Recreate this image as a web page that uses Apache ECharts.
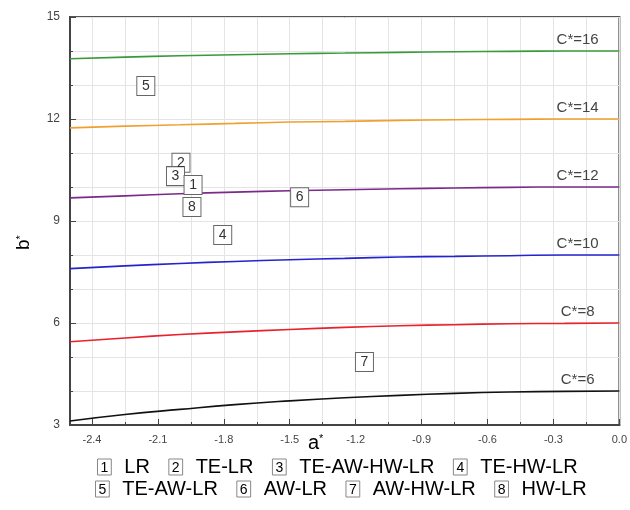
<!DOCTYPE html>
<html>
<head>
<meta charset="utf-8">
<script src="https://cdn.jsdelivr.net/npm/echarts@6/dist/echarts.min.js"></script>
<style>
  html, body { margin: 0; padding: 0; background: #fff; }
  #chart { width: 630px; height: 510px; }
</style>
</head>
<body>
<div id="chart"></div>
<script>
// a* positions at which each constant-chroma curve is sampled
const aValues = [-2.5, -2.25, -2.0, -1.75, -1.5, -1.25, -1.0, -0.75, -0.5, -0.25, 0.0];

// b* along each curve
const bC6  = [3.12, 3.31, 3.46, 3.60, 3.71, 3.80, 3.87, 3.93, 3.97, 3.99, 4.00];
const bC8  = [5.45, 5.56, 5.66, 5.74, 5.81, 5.87, 5.92, 5.95, 5.98, 5.99, 6.00];
const bC10 = [7.60, 7.68, 7.75, 7.81, 7.86, 7.90, 7.94, 7.96, 7.98, 8.00, 8.00];
const bC12 = [9.68, 9.74, 9.80, 9.85, 9.89, 9.92, 9.95, 9.97, 9.99, 10.0, 10.0];
const bC14 = [11.74, 11.79, 11.83, 11.87, 11.91, 11.93, 11.96, 11.98, 11.99, 12.0, 12.0];
const bC16 = [13.77, 13.82, 13.86, 13.89, 13.92, 13.94, 13.96, 13.98, 13.99, 14.0, 14.0];

const curveNames = ['C*=6', 'C*=8', 'C*=10', 'C*=12', 'C*=14', 'C*=16'];

// numbered sample points (drawing order: later ones sit on top)
const markerIds = ['2', '3', '1', '8', '6', '4', '5', '7'];
const markerA   = [-1.995, -2.02, -1.94, -1.945, -1.455, -1.805, -2.155, -1.16];
const markerB   = [10.71, 10.32, 10.06, 9.41, 9.70, 8.59, 12.97, 4.85];

// key below the plot
const keyIds   = ['1', '2', '3', '4', '5', '6', '7', '8'];
const keyNames = ['LR', 'TE-LR', 'TE-AW-HW-LR', 'TE-HW-LR', 'TE-AW-LR', 'AW-LR', 'AW-HW-LR', 'HW-LR'];

// x tick labels
const xTickLabels = ['-2.4', '-2.1', '-1.8', '-1.5', '-1.2', '-0.9', '-0.6', '-0.3', '0.0'];

const curves = [bC6, bC8, bC10, bC12, bC14, bC16];
const curveColors = ['#111111', '#e8222c', '#2424cc', '#7a2a8a', '#f0a030', '#3a9a3a'];
const labelA = -0.19;

// major ticks at the labelled values, minor ticks halfway between them
const xMajor = xTickLabels.map(Number);
const xAll = [];
xMajor.forEach((v, i) => {
  xAll.push(v);
  if (i < xMajor.length - 1) xAll.push(Math.round((v + 0.15) * 100) / 100);
});

const chart = echarts.init(document.getElementById('chart'));

const FONT = 'Liberation Sans, Arial, sans-serif';

const lineSeries = curves.map((vals, i) => ({
  name: curveNames[i],
  type: 'line',
  xAxisIndex: 0,
  data: aValues.map((a, j) => [a, vals[j]]),
  smooth: true,
  showSymbol: false,
  symbol: 'none',
  lineStyle: { color: curveColors[i], width: 1.6 },
  z: 3,
  markPoint: {
    symbol: 'circle',
    symbolSize: 0,
    silent: true,
    data: [{ coord: [labelA, vals[vals.length - 1]] }],
    label: {
      show: true,
      position: 'top',
      distance: 4,
      formatter: curveNames[i],
      color: '#444',
      fontSize: 15,
      fontFamily: FONT
    }
  }
}));

const markerSeries = {
  type: 'scatter',
  xAxisIndex: 0,
  data: markerIds.map((id, i) => ({ name: id, value: [markerA[i], markerB[i]] })),
  symbol: 'rect',
  symbolSize: [18, 19],
  itemStyle: { color: '#fff', borderColor: '#666', borderWidth: 1, opacity: 1 },
  label: {
    show: true,
    position: 'inside',
    formatter: p => p.name,
    color: '#333',
    fontSize: 14,
    fontFamily: FONT
  },
  z: 5
};

function keyRow(ids, names) {
  return ids.map((id, i) => '{box|' + id + '}{g| }{t|' + names[i] + '}' + (i < ids.length - 1 ? '{sp| }' : '')).join('');
}
const keyRich = {
  box: { fontSize: 14, color: '#444', borderColor: '#888', borderWidth: 1, padding: [2, 3, 0, 3], fontFamily: FONT },
  g: { width: 13, fontSize: 14 },
  t: { fontSize: 20, color: '#333', fontFamily: FONT },
  sp: { width: 19, fontSize: 14 }
};

chart.setOption({
  animation: false,
  backgroundColor: '#fff',
  grid: { left: 70, right: 10, top: 17, bottom: 85, show: true, borderColor: '#555', borderWidth: 2, backgroundColor: 'transparent' },
  xAxis: [{
    type: 'value',
    min: -2.5,
    max: 0,
    axisLine: { show: true, onZero: false, lineStyle: { color: '#444', width: 2 } },
    axisTick: { show: true, inside: true, length: 3, customValues: xAll, lineStyle: { color: '#444' } },
    axisLabel: {
      customValues: xMajor,
      color: '#444',
      fontSize: 11,
      fontFamily: FONT,
      margin: 9,
      formatter: v => v.toFixed(1)
    },
    splitLine: { show: true, lineStyle: { color: '#e4e4e4', width: 1 } }
  }, {
    type: 'value',
    min: -2.5,
    max: 0,
    position: 'bottom',
    axisLine: { show: false },
    axisTick: { show: true, inside: true, length: 6, customValues: xMajor, lineStyle: { color: '#444' } },
    axisLabel: { show: false },
    splitLine: { show: false }
  }],
  yAxis: {
    type: 'value',
    min: 3,
    max: 15,
    interval: 3,
    axisLine: { show: true, onZero: false, lineStyle: { color: '#444', width: 2 } },
    axisTick: { show: true, inside: true, length: 6, lineStyle: { color: '#444' } },
    minorTick: { show: true, splitNumber: 3, length: 3, lineStyle: { color: '#444' } },
    axisLabel: { color: '#444', fontSize: 12, fontFamily: FONT, margin: 10 },
    splitLine: { show: true, lineStyle: { color: '#e4e4e4', width: 1 } },
    minorSplitLine: { show: true, lineStyle: { color: '#e4e4e4', width: 1 } }
  },
  graphic: [
    {
      type: 'text', left: 308, top: 433,
      style: {
        text: '{a|a}{s|*}',
        rich: { a: { fontSize: 20, color: '#222', fontFamily: FONT }, s: { fontSize: 11, color: '#222', fontFamily: FONT, verticalAlign: 'top', padding: [0, 0, 6, 0] } }
      }
    },
    {
      type: 'text', x: 14, y: 250, rotation: Math.PI / 2,
      style: {
        text: '{a|b}{s|*}',
        rich: { a: { fontSize: 19, color: '#222', fontFamily: FONT }, s: { fontSize: 11, color: '#222', fontFamily: FONT, padding: [0, 0, 6, 0] } }
      }
    },
    { type: 'text', left: 97, top: 457, style: { text: keyRow(keyIds.slice(0, 4), keyNames.slice(0, 4)), rich: keyRich } },
    { type: 'text', left: 95, top: 479, style: { text: keyRow(keyIds.slice(4), keyNames.slice(4)), rich: keyRich } }
  ],
  series: lineSeries.concat([markerSeries])
});
</script>
</body>
</html>
